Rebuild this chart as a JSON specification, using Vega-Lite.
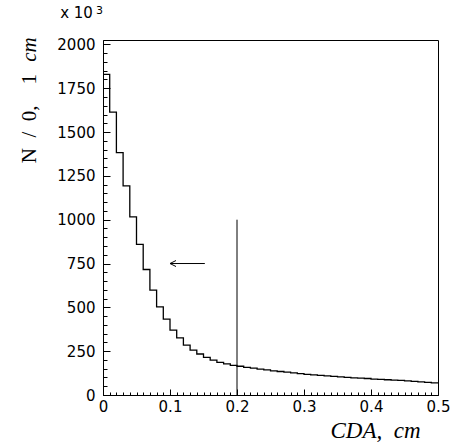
{
  "$schema": "https://vega.github.io/schema/vega-lite/v6.json",
  "width": 335,
  "height": 355,
  "autosize": {"type": "none"},
  "padding": {"left": 103, "top": 40, "right": 30, "bottom": 51},
  "background": "white",
  "config": {
    "view": {"stroke": "black", "strokeWidth": 1},
    "axis": {
      "grid": false,
      "labelFont": "DejaVu Sans",
      "labelFontSize": 15,
      "labelColor": "black",
      "tickColor": "black",
      "domainColor": "black",
      "titleColor": "black",
      "labelFlush": false,
      "labelOverlap": false
    }
  },
  "datasets": {
    "hist": [
      {"x": 0.00, "n": 1829}, {"x": 0.01, "n": 1614}, {"x": 0.02, "n": 1383}, {"x": 0.03, "n": 1193},
      {"x": 0.04, "n": 1016}, {"x": 0.05, "n": 859}, {"x": 0.06, "n": 716}, {"x": 0.07, "n": 598},
      {"x": 0.08, "n": 503}, {"x": 0.09, "n": 433}, {"x": 0.10, "n": 370}, {"x": 0.11, "n": 326},
      {"x": 0.12, "n": 285}, {"x": 0.13, "n": 256}, {"x": 0.14, "n": 234}, {"x": 0.15, "n": 215},
      {"x": 0.16, "n": 199}, {"x": 0.17, "n": 186}, {"x": 0.18, "n": 177}, {"x": 0.19, "n": 169},
      {"x": 0.20, "n": 164}, {"x": 0.21, "n": 158}, {"x": 0.22, "n": 153}, {"x": 0.23, "n": 148},
      {"x": 0.24, "n": 143}, {"x": 0.25, "n": 138}, {"x": 0.26, "n": 134}, {"x": 0.27, "n": 130},
      {"x": 0.28, "n": 126}, {"x": 0.29, "n": 122}, {"x": 0.30, "n": 118}, {"x": 0.31, "n": 115},
      {"x": 0.32, "n": 112}, {"x": 0.33, "n": 109}, {"x": 0.34, "n": 106}, {"x": 0.35, "n": 103},
      {"x": 0.36, "n": 100}, {"x": 0.37, "n": 98}, {"x": 0.38, "n": 96}, {"x": 0.39, "n": 94},
      {"x": 0.40, "n": 91}, {"x": 0.41, "n": 89}, {"x": 0.42, "n": 87}, {"x": 0.43, "n": 85},
      {"x": 0.44, "n": 83}, {"x": 0.45, "n": 81}, {"x": 0.46, "n": 78}, {"x": 0.47, "n": 75},
      {"x": 0.48, "n": 72}, {"x": 0.49, "n": 69}, {"x": 0.50, "n": 69}
    ],
    "cut": [{"x": 0.2, "y": 0, "y2": 1000}],
    "arrow": [{"x": 0.1, "x2": 0.152, "y": 750}]
  },
  "layer": [
    {
      "data": {"name": "hist"},
      "mark": {"type": "line", "interpolate": "step-after", "color": "black", "strokeWidth": 1.3},
      "encoding": {
        "x": {
          "field": "x", "type": "quantitative",
          "scale": {"domain": [0, 0.5], "nice": false, "zero": false},
          "axis": {
            "orient": "bottom",
            "values": [0, 0.1, 0.2, 0.3, 0.4, 0.5],
            "format": ".1~f",
            "tickSize": -6,
            "labelPadding": 10,
            "title": "CDA,\u2002cm",
            "titleFont": "Liberation Serif",
            "titleFontStyle": "italic",
            "titleFontWeight": "normal",
            "titleFontSize": 23,
            "titleX": 272,
            "titleY": 42,
            "titleAlign": "center",
            "titleBaseline": "alphabetic",
            "titleAngle": 0
          }
        },
        "y": {
          "field": "n", "type": "quantitative",
          "scale": {"domain": [0, 2025], "nice": false},
          "axis": {
            "orient": "left",
            "values": [0, 250, 500, 750, 1000, 1250, 1500, 1750, 2000],
            "format": "d",
            "tickSize": -7,
            "labelPadding": 15,
            "title": "N\u2002/\u20020,\u20031",
            "titleFont": "Liberation Serif",
            "titleFontWeight": "normal",
            "titleFontSize": 21,
            "titleX": -68,
            "titleY": 78,
            "titleAlign": "center",
            "titleBaseline": "alphabetic",
            "titleAngle": 270
          }
        }
      }
    },
    {
      "data": {"name": "cut"},
      "mark": {"type": "rule", "color": "black", "strokeWidth": 1},
      "encoding": {
        "x": {
          "field": "x", "type": "quantitative",
          "axis": {
            "orient": "bottom",
            "values": [0.01,0.02,0.03,0.04,0.05,0.06,0.07,0.08,0.09,0.11,0.12,0.13,0.14,0.15,0.16,0.17,0.18,0.19,0.21,0.22,0.23,0.24,0.25,0.26,0.27,0.28,0.29,0.31,0.32,0.33,0.34,0.35,0.36,0.37,0.38,0.39,0.41,0.42,0.43,0.44,0.45,0.46,0.47,0.48,0.49],
            "tickSize": -3,
            "labels": false,
            "domain": false,
            "title": null
          }
        },
        "y": {
          "field": "y", "type": "quantitative",
          "axis": {
            "orient": "left",
            "values": [50,100,150,200,300,350,400,450,550,600,650,700,800,850,900,950,1050,1100,1150,1200,1300,1350,1400,1450,1550,1600,1650,1700,1800,1850,1900,1950],
            "tickSize": -4,
            "labels": false,
            "domain": false,
            "title": null
          }
        },
        "y2": {"field": "y2"}
      }
    },
    {
      "data": {"name": "arrow"},
      "mark": {"type": "rule", "color": "black", "strokeWidth": 1},
      "encoding": {
        "x": {
          "field": "x", "type": "quantitative",
          "axis": {
            "orient": "top",
            "ticks": false,
            "labels": false,
            "domain": false,
            "title": "x 10",
            "titleFont": "DejaVu Sans",
            "titleFontWeight": "normal",
            "titleFontSize": 15,
            "titleX": -27,
            "titleY": -23,
            "titleAlign": "center",
            "titleBaseline": "alphabetic",
            "titleAngle": 0
          }
        },
        "x2": {"field": "x2"},
        "y": {
          "field": "y", "type": "quantitative",
          "axis": {
            "orient": "left",
            "ticks": false,
            "labels": false,
            "domain": false,
            "title": "cm",
            "titleFont": "Liberation Serif",
            "titleFontStyle": "italic",
            "titleFontWeight": "normal",
            "titleFontSize": 21,
            "titleX": -68,
            "titleY": 9,
            "titleAlign": "center",
            "titleBaseline": "alphabetic",
            "titleAngle": 270
          }
        }
      }
    },
    {
      "data": {"name": "arrow"},
      "mark": {"type": "point", "shape": "M2,-1L0,0L2,1", "size": 36, "filled": false, "color": "black", "strokeWidth": 1, "opacity": 1},
      "encoding": {
        "x": {
          "field": "x", "type": "quantitative",
          "axis": {
            "orient": "top",
            "ticks": false,
            "labels": false,
            "domain": false,
            "title": "3",
            "titleFont": "DejaVu Sans",
            "titleFontWeight": "normal",
            "titleFontSize": 11,
            "titleX": -4,
            "titleY": -27,
            "titleAlign": "center",
            "titleBaseline": "alphabetic",
            "titleAngle": 0
          }
        },
        "y": {"field": "y", "type": "quantitative", "axis": null}
      }
    }
  ],
  "resolve": {"axis": {"x": "independent", "y": "independent"}}
}
